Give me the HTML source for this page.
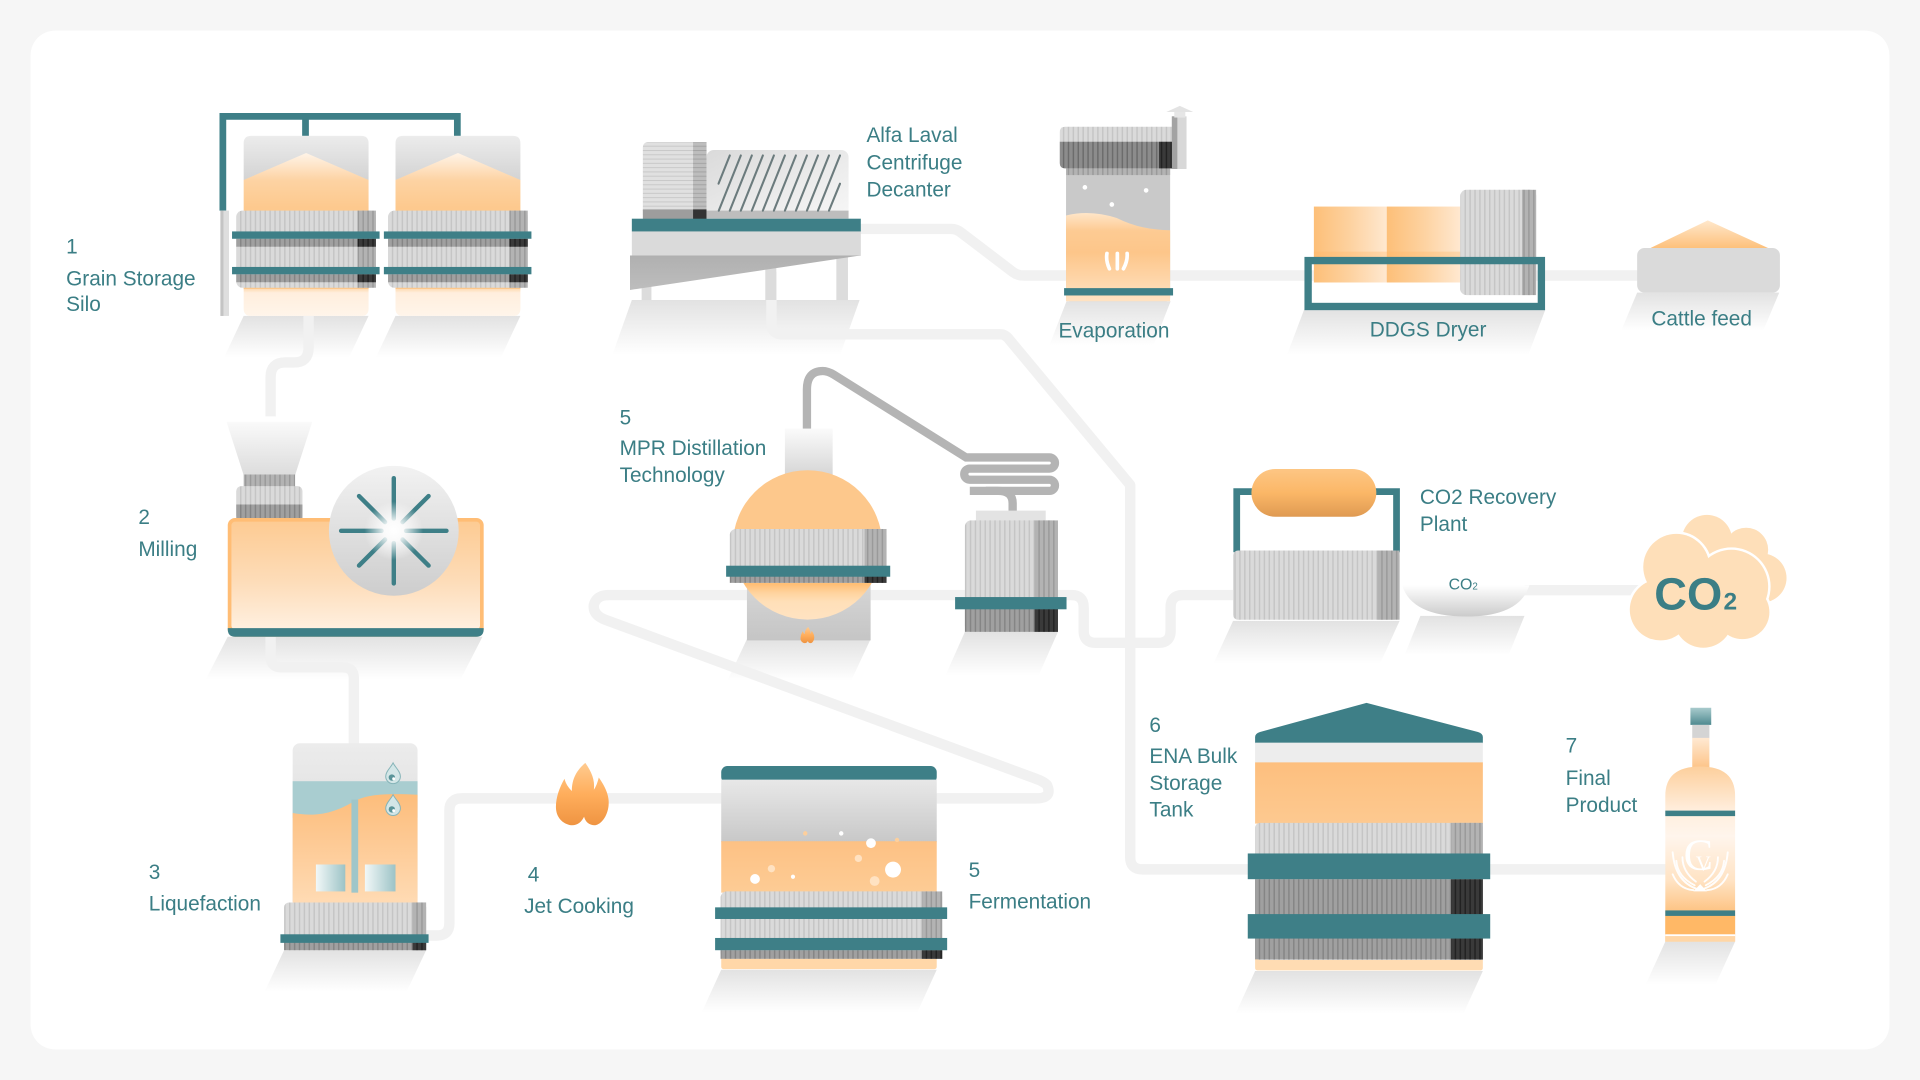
<!DOCTYPE html>
<html><head><meta charset="utf-8">
<style>
html,body{margin:0;padding:0;background:#f6f6f6;overflow:hidden;width:1920px;height:1080px}
svg{display:block}
.t{font-family:"Liberation Sans",sans-serif;fill:#3b7e85;font-size:17px}
</style></head><body>
<svg width="1920" height="1080" viewBox="0 0 1568 882" xmlns="http://www.w3.org/2000/svg">
<defs>
 <pattern id="rL" width="4" height="10" patternUnits="userSpaceOnUse"><rect width="4" height="10" fill="#dadada"/><rect width="1.2" height="10" fill="#c5c5c5"/></pattern>
 <pattern id="rM" width="4" height="10" patternUnits="userSpaceOnUse"><rect width="4" height="10" fill="#b3b3b3"/><rect width="1.2" height="10" fill="#9a9a9a"/></pattern>
 <pattern id="rD" width="4" height="10" patternUnits="userSpaceOnUse"><rect width="4" height="10" fill="#a0a0a0"/><rect width="1.2" height="10" fill="#858585"/></pattern>
 <pattern id="rD2" width="4" height="10" patternUnits="userSpaceOnUse"><rect width="4" height="10" fill="#8c8c8c"/><rect width="1.2" height="10" fill="#6c6c6c"/></pattern>
 <pattern id="rK" width="4" height="10" patternUnits="userSpaceOnUse"><rect width="4" height="10" fill="#3a3a3a"/><rect width="1.2" height="10" fill="#222"/></pattern>
 <pattern id="rH" width="10" height="3.5" patternUnits="userSpaceOnUse"><rect width="10" height="3.5" fill="#e0e0e0"/><rect width="10" height="0.8" fill="#c8c8c8"/></pattern>
 <pattern id="rHM" width="10" height="3.5" patternUnits="userSpaceOnUse"><rect width="10" height="3.5" fill="#bdbdbd"/><rect width="10" height="0.8" fill="#a3a3a3"/></pattern>
 <linearGradient id="sh" x1="0" y1="0" x2="0" y2="1"><stop offset="0" stop-color="#e2e2e2"/><stop offset="1" stop-color="#ffffff"/></linearGradient>
 <linearGradient id="gG" x1="0" y1="0" x2="0" y2="1"><stop offset="0" stop-color="#ececec"/><stop offset="1" stop-color="#d3d3d3"/></linearGradient>
 <linearGradient id="gG2" x1="0" y1="0" x2="0" y2="1"><stop offset="0" stop-color="#e8e8e8"/><stop offset="1" stop-color="#c8c8c8"/></linearGradient>
 <linearGradient id="gRoof" x1="0" y1="0" x2="0" y2="1"><stop offset="0" stop-color="#fff4e8"/><stop offset="0.2" stop-color="#fdd3a3"/><stop offset="0.4" stop-color="#fdc98e"/><stop offset="1" stop-color="#fdc88c"/></linearGradient>
 <linearGradient id="gOL" x1="0" y1="0" x2="0" y2="1"><stop offset="0" stop-color="#fdd6a8"/><stop offset="0.18" stop-color="#ffeedd"/><stop offset="1" stop-color="#fff5ea"/></linearGradient>
 <linearGradient id="gHop" x1="0" y1="0" x2="0" y2="1"><stop offset="0" stop-color="#fafafa"/><stop offset="1" stop-color="#dcdcdc"/></linearGradient>
 <linearGradient id="gMill" x1="0" y1="0" x2="0" y2="1"><stop offset="0" stop-color="#fdcb93"/><stop offset="0.55" stop-color="#fddcb8"/><stop offset="1" stop-color="#fff0e0"/></linearGradient>
 <linearGradient id="gCirc" x1="0" y1="0" x2="0" y2="1"><stop offset="0" stop-color="#f2f2f2"/><stop offset="1" stop-color="#cdcdcd"/></linearGradient>
 <radialGradient id="glow"><stop offset="0" stop-color="#fff" stop-opacity="1"/><stop offset="0.35" stop-color="#fff" stop-opacity="0.85"/><stop offset="1" stop-color="#fff" stop-opacity="0"/></radialGradient>
 <linearGradient id="gLiq" x1="0" y1="0" x2="0" y2="1"><stop offset="0" stop-color="#fdbd7b"/><stop offset="0.4" stop-color="#fdc993"/><stop offset="1" stop-color="#ffdcb6"/></linearGradient>
 <linearGradient id="gPad" x1="0" y1="0" x2="1" y2="0"><stop offset="0" stop-color="#f2f8f8"/><stop offset="1" stop-color="#9cc3c6"/></linearGradient>
 <linearGradient id="gFlame" x1="0" y1="0" x2="0" y2="1"><stop offset="0" stop-color="#ffcb90"/><stop offset="0.5" stop-color="#ffae5c"/><stop offset="1" stop-color="#ef9442"/></linearGradient>
 <linearGradient id="gFerm" x1="0" y1="0" x2="0" y2="1"><stop offset="0" stop-color="#fdc184"/><stop offset="1" stop-color="#fdcc95"/></linearGradient>
 <linearGradient id="gNeck" x1="0" y1="0" x2="0" y2="1"><stop offset="0" stop-color="#fbfbfb"/><stop offset="1" stop-color="#d2d2d2"/></linearGradient>
 <linearGradient id="gStand" x1="0" y1="0" x2="0" y2="1"><stop offset="0" stop-color="#d9d9d9"/><stop offset="1" stop-color="#c5c5c5"/></linearGradient>
 <linearGradient id="gDome" x1="0" y1="0" x2="0" y2="1"><stop offset="0" stop-color="#fdc88c"/><stop offset="0.75" stop-color="#fdc88c"/><stop offset="0.76" stop-color="#ffbd72"/><stop offset="0.82" stop-color="#ffd39e"/><stop offset="0.88" stop-color="#ffdfb8"/><stop offset="1" stop-color="#ffe3c2"/></linearGradient>
 <linearGradient id="gDrum" x1="0" y1="0" x2="1" y2="1"><stop offset="0" stop-color="#dadada"/><stop offset="0.6" stop-color="#ececec"/><stop offset="1" stop-color="#f7f7f7"/></linearGradient>
 <linearGradient id="gTri" x1="0" y1="0" x2="0" y2="1"><stop offset="0" stop-color="#b0b0b0"/><stop offset="1" stop-color="#bdbdbd"/></linearGradient>
 <linearGradient id="gEvap" x1="0" y1="0" x2="0" y2="1"><stop offset="0" stop-color="#ffe6c9"/><stop offset="0.2" stop-color="#fdcb93"/><stop offset="0.45" stop-color="#fdc68a"/><stop offset="1" stop-color="#ffe2c2"/></linearGradient>
 <linearGradient id="gDB" x1="0" y1="0" x2="1" y2="0"><stop offset="0" stop-color="#fdbf78"/><stop offset="0.5" stop-color="#fdd2a0"/><stop offset="1" stop-color="#ffe8d0"/></linearGradient>
 <linearGradient id="gCF" x1="0" y1="0" x2="0" y2="1"><stop offset="0" stop-color="#ffe8cc"/><stop offset="1" stop-color="#fdc07a"/></linearGradient>
 <linearGradient id="gCap" x1="0" y1="0" x2="0" y2="1"><stop offset="0" stop-color="#fdc684"/><stop offset="0.5" stop-color="#fbb767"/><stop offset="1" stop-color="#df9a52"/></linearGradient>
 <linearGradient id="gBowl" x1="0" y1="0" x2="0" y2="1"><stop offset="0" stop-color="#ffffff"/><stop offset="1" stop-color="#cbcbcb"/></linearGradient>
 <linearGradient id="gENA" x1="0" y1="0" x2="0" y2="1"><stop offset="0" stop-color="#fdbf7e"/><stop offset="1" stop-color="#fdc990"/></linearGradient>
 <linearGradient id="gCapB" x1="0" y1="0" x2="0" y2="1"><stop offset="0" stop-color="#a9cbcd"/><stop offset="1" stop-color="#4f8a90"/></linearGradient>
 <linearGradient id="gNeckO" x1="0" y1="0" x2="0" y2="1"><stop offset="0" stop-color="#ffe9d2"/><stop offset="1" stop-color="#fdc58a"/></linearGradient>
 <linearGradient id="gBot" x1="0" y1="0" x2="0" y2="1"><stop offset="0" stop-color="#fdcf9c"/><stop offset="0.25" stop-color="#ffeedd"/><stop offset="0.4" stop-color="#fff5ec"/><stop offset="0.65" stop-color="#ffe3c4"/><stop offset="0.82" stop-color="#fdc587"/><stop offset="1" stop-color="#fdc587"/></linearGradient>
</defs>

<!-- card -->
<rect x="0" y="0" width="1568" height="882" fill="#f6f6f6"/>
<rect x="25" y="25" width="1518" height="832" rx="20" fill="#ffffff"/>

<!-- shadows -->
<g fill="url(#sh)">
<polygon points="199,258 301,258 285,292 183,292"/>
<polygon points="323,258 425,258 409,292 307,292"/>
<polygon points="516,245 702,245 686,290 500,290"/>
<polygon points="871,246 956,246 942,282 857,282"/>
<polygon points="1065,253 1262,253 1248,290 1051,290"/>
<polygon points="1337,239 1453,239 1440,270 1324,270"/>
<polygon points="186,520 394,520 376,555 168,555"/>
<polygon points="610,522 711,522 695,556 594,556"/>
<polygon points="788,516 864,516 848,552 772,552"/>
<polygon points="1007,507 1143,507 1127,542 991,542"/>
<polygon points="1160,503 1245,503 1232,535 1147,535"/>
<polygon points="232,776 348,776 332,810 216,810"/>
<polygon points="589,792 765,792 749,827 573,827"/>
<polygon points="1025,793 1211,793 1195,828 1009,828"/>
<polygon points="1360,769 1417,769 1401,804 1344,804"/>
</g>

<!-- pipes -->
<g fill="none" stroke="#f1f1f1" stroke-width="8.5" stroke-linejoin="round">
<path d="M252,250 V284 Q252,296 240,296 H233 Q221,296 221,308 V340"/>
<path d="M221,515 V536 Q221,545 230,545 H280 Q289,545 289,554 V610"/>
<path d="M345,764 H357 Q367,764 367,754 V662 Q367,652 377,652 H592"/>
<path d="M762,652 H846 Q860,652 855,641 Q852,638 846,636 L494,506 Q484,502 485,494 Q487,486 497,486 H875 Q885,486 885,496 V515 Q885,525 895,525 H946 Q956,525 956,515 V496 Q956,486 966,486 H1010"/>
<path d="M700,187 H777 Q781,187 785,190 L827,222 Q831,225 836,225 H1340"/>
<path d="M630,222 V264 Q630,273 639,273 H817 Q821,273 824,277 L923,396 V700 Q923,710 933,710 H1020"/>
<path d="M1245,482 H1340"/>
<path d="M1215,710 H1362"/>
</g>

<!-- 1 silos -->
<path d="M182,172 V95 H373.5 V111 M249.5,95 V111" fill="none" stroke="#3e7f87" stroke-width="5.5"/>
<rect x="180" y="172" width="7" height="86" fill="#dedede"/>
<rect x="180" y="172" width="2.5" height="86" fill="#c4c4c4"/>
<g>
<path d="M199,235 H301 V252 Q301,258 295,258 H205 Q199,258 199,252 Z" fill="url(#gOL)"/>
<path d="M199,147 V117 Q199,111 205,111 H295 Q301,111 301,117 V147 Z" fill="url(#gG)"/>
<polygon points="199,147 250,125 301,147 301,236 199,236" fill="url(#gRoof)"/>
<rect x="193" y="172" width="114" height="63" rx="5" fill="url(#rL)"/>
<rect x="292" y="172" width="15" height="63" fill="url(#rM)"/>
<rect x="193" y="195" width="114" height="6.5" fill="url(#rD)"/>
<rect x="193" y="224" width="114" height="6.5" fill="url(#rD)"/>
<rect x="292" y="195" width="15" height="6.5" fill="url(#rK)"/>
<rect x="292" y="224" width="15" height="6.5" fill="url(#rK)"/>
<rect x="189.5" y="189" width="120.5" height="6" fill="#3e7f87"/>
<rect x="189.5" y="218" width="120.5" height="6" fill="#3e7f87"/>
</g>
<g transform="translate(124,0)">
<path d="M199,235 H301 V252 Q301,258 295,258 H205 Q199,258 199,252 Z" fill="url(#gOL)"/>
<path d="M199,147 V117 Q199,111 205,111 H295 Q301,111 301,117 V147 Z" fill="url(#gG)"/>
<polygon points="199,147 250,125 301,147 301,236 199,236" fill="url(#gRoof)"/>
<rect x="193" y="172" width="114" height="63" rx="5" fill="url(#rL)"/>
<rect x="292" y="172" width="15" height="63" fill="url(#rM)"/>
<rect x="193" y="195" width="114" height="6.5" fill="url(#rD)"/>
<rect x="193" y="224" width="114" height="6.5" fill="url(#rD)"/>
<rect x="292" y="195" width="15" height="6.5" fill="url(#rK)"/>
<rect x="292" y="224" width="15" height="6.5" fill="url(#rK)"/>
<rect x="189.5" y="189" width="120.5" height="6" fill="#3e7f87"/>
<rect x="189.5" y="218" width="120.5" height="6" fill="#3e7f87"/>
</g>

<!-- 2 milling -->
<polygon points="185,344.5 255,344.5 241,388 199,388" fill="url(#gHop)"/>
<rect x="199" y="387.5" width="42" height="10" fill="url(#rM)"/>
<rect x="193" y="397" width="54" height="28" rx="4" fill="url(#rL)"/>
<rect x="193" y="412" width="54" height="12" fill="url(#rD)"/>
<rect x="186" y="423" width="209" height="97" rx="6" fill="#ffbd75"/>
<rect x="189" y="426" width="203" height="88" rx="3" fill="url(#gMill)"/>
<path d="M186,513 H395 V514 Q395,520 389,520 H192 Q186,520 186,514 Z" fill="#3e7f87"/>
<circle cx="321.6" cy="433.5" r="53" fill="url(#gCirc)"/>
<g stroke="#3e7f87" stroke-width="3.6" stroke-linecap="round">
<line x1="331.6" y1="433.5" x2="364.6" y2="433.5"/>
<line x1="311.6" y1="433.5" x2="278.6" y2="433.5"/>
<line x1="321.6" y1="443.5" x2="321.6" y2="476.5"/>
<line x1="321.6" y1="423.5" x2="321.6" y2="390.5"/>
<line x1="328.7" y1="440.6" x2="350" y2="461.9"/>
<line x1="314.5" y1="440.6" x2="293.2" y2="461.9"/>
<line x1="314.5" y1="426.4" x2="293.2" y2="405.1"/>
<line x1="328.7" y1="426.4" x2="350" y2="405.1"/>
</g>
<circle cx="321.6" cy="433.5" r="24" fill="url(#glow)"/>

<!-- 3 liquefaction -->
<rect x="239" y="607" width="102" height="134" rx="6" fill="url(#gG)"/>
<rect x="239" y="638" width="102" height="30" fill="#a9cdd0"/>
<path d="M239,664 C262,668 276,662 290,654 C302,648 320,648 341,649 V741 H239 Z" fill="url(#gLiq)"/>
<rect x="287" y="653" width="5.5" height="76" fill="#9fc6c9"/>
<rect x="258" y="706" width="24" height="22" fill="url(#gPad)"/>
<rect x="298" y="706" width="25" height="22" fill="url(#gPad)"/>
<path d="M321,623 C323,627 327,630 327,634 A6,6 0 0 1 315,634 C315,630 319,627 321,623 Z" fill="#d3e6e7" stroke="#86b4b8" stroke-width="0.8"/>
<circle cx="320" cy="635" r="2.6" fill="#5a9499"/><circle cx="321.5" cy="636" r="1.2" fill="#fff"/>
<path d="M321,649 C323,653 327,656 327,660 A6,6 0 0 1 315,660 C315,656 319,653 321,649 Z" fill="#d3e6e7" stroke="#86b4b8" stroke-width="0.8"/>
<circle cx="320" cy="661" r="2.6" fill="#5a9499"/><circle cx="321.5" cy="662" r="1.2" fill="#fff"/>
<rect x="232" y="737" width="116" height="39" rx="4" fill="url(#rL)"/>
<rect x="337" y="737" width="11" height="39" fill="url(#rM)"/>
<rect x="232" y="769" width="116" height="7" fill="url(#rD)"/>
<rect x="337" y="769" width="11" height="7" fill="url(#rK)"/>
<rect x="229" y="763" width="121" height="7" fill="#3e7f87"/>

<!-- 4 jet cooking flame -->
<path transform="translate(453,623)" d="M25,0 C30,7 33,14 32,22 C34,19 35,16 36,12 C41,19 45,27 44,35 C43,44 38,50 33,51 C28,51 25,48 24,44 C22,48 19,51 14,51 C6,50 1,44 1,36 C1,28 4,20 8,13 C9,17 11,20 14,23 C14,13 18,6 25,0 Z" fill="url(#gFlame)"/>

<!-- 5 fermentation -->
<rect x="589" y="625.6" width="176" height="14" rx="5" fill="#3e7f87"/>
<rect x="589" y="636.7" width="176" height="51" fill="url(#gG2)"/>
<rect x="589" y="687" width="176" height="42" fill="url(#gFerm)"/>
<g fill="#fff">
<circle cx="711.3" cy="688.6" r="4"/><circle cx="729.3" cy="710.2" r="6.5"/><circle cx="616.6" cy="717.8" r="4"/>
<circle cx="647.6" cy="716" r="1.7"/><circle cx="687" cy="680.6" r="1.8"/>
</g>
<g fill="#ffe2c2"><circle cx="701" cy="701" r="3"/><circle cx="714.3" cy="719.5" r="4"/><circle cx="630" cy="709.4" r="3"/></g>
<g fill="#fdcf9c"><circle cx="657.6" cy="680.6" r="1.8"/><circle cx="732.6" cy="686" r="1.8"/></g>
<rect x="589" y="781" width="176" height="10.5" rx="2" fill="#ffd7a8"/>
<rect x="588.5" y="728" width="181" height="55" rx="5" fill="url(#rL)"/>
<rect x="753" y="728" width="16.5" height="55" fill="url(#rM)"/>
<rect x="588.5" y="776" width="181" height="7" fill="url(#rD)"/>
<rect x="753" y="776" width="16.5" height="7" fill="url(#rK)"/>
<rect x="584" y="741" width="189.5" height="9.5" fill="#3e7f87"/>
<rect x="584" y="766" width="189.5" height="10" fill="#3e7f87"/>

<!-- MPR distillation -->
<g fill="none" stroke="#b4b4b4" stroke-width="6.8">
<path d="M659,352 V318 Q659,303 672,303 Q676,303 681,306 L789,373.6 H857 A4.55,4.55 0 0 1 857,382.7 H792 A4.55,4.55 0 0 0 792,391.8 H857 A4.55,4.55 0 0 1 857,400.9 H792"/>
<path d="M805,400.9 H815 Q827,400.9 827,411 V420"/>
</g>
<rect x="641" y="350" width="39" height="42" fill="url(#gNeck)"/>
<rect x="610" y="468" width="101" height="55" fill="url(#gStand)"/>
<circle cx="659.5" cy="445" r="61" fill="url(#gDome)"/>
<rect x="596" y="432" width="128" height="44" rx="5" fill="url(#rL)"/>
<rect x="706" y="432" width="18" height="44" fill="url(#rM)"/>
<rect x="596" y="470" width="128" height="6" fill="url(#rD)"/>
<rect x="706" y="470" width="18" height="6" fill="url(#rK)"/>
<rect x="593" y="462" width="134" height="9" fill="#3e7f87"/>
<path transform="translate(653.5,512) scale(0.26)" d="M25,0 C30,7 33,14 32,22 C34,19 35,16 36,12 C41,19 45,27 44,35 C43,44 38,50 33,51 C28,51 25,48 24,44 C22,48 19,51 14,51 C6,50 1,44 1,36 C1,28 4,20 8,13 C9,17 11,20 14,23 C14,13 18,6 25,0 Z" fill="url(#gFlame)"/>
<!-- condenser -->
<rect x="797" y="417" width="57" height="9" fill="#e3e3e3"/>
<rect x="788" y="425" width="76" height="91" rx="5" fill="url(#rL)"/>
<rect x="845" y="425" width="19" height="91" fill="url(#rM)"/>
<rect x="788" y="497" width="76" height="19" fill="url(#rD)"/>
<rect x="845" y="497" width="19" height="19" fill="url(#rK)"/>
<rect x="780" y="487.6" width="91" height="10" fill="#3e7f87"/>

<!-- decanter -->
<rect x="524" y="230" width="8" height="15" fill="#dcdcdc"/>
<rect x="625" y="215" width="9" height="30" fill="#dcdcdc"/>
<rect x="683" y="208" width="9.5" height="37" fill="#dcdcdc"/>
<rect x="525" y="116" width="52" height="63" rx="4" fill="url(#rH)"/>
<rect x="566" y="116" width="11" height="63" fill="url(#rHM)"/>
<rect x="525" y="171" width="41" height="8" fill="#9d9d9d"/>
<rect x="566" y="171" width="11" height="8" fill="#333"/>
<rect x="577" y="122.5" width="116" height="56" rx="6" fill="url(#gDrum)"/>
<rect x="577" y="172" width="116" height="6.5" fill="#bdbdbd"/>
<g stroke="#6b7b7d" stroke-width="1.7" stroke-linecap="round">
<line x1="586.8" y1="150" x2="596" y2="127"/>
<line x1="587" y1="172" x2="605" y2="127"/>
<line x1="596" y1="172" x2="614" y2="127"/>
<line x1="605" y1="172" x2="623" y2="127"/>
<line x1="614" y1="172" x2="632" y2="127"/>
<line x1="623" y1="172" x2="641" y2="127"/>
<line x1="632" y1="172" x2="650" y2="127"/>
<line x1="641" y1="172" x2="659" y2="127"/>
<line x1="650" y1="172" x2="668" y2="127"/>
<line x1="659" y1="172" x2="677" y2="127"/>
<line x1="668" y1="172" x2="686" y2="127"/>
<line x1="677" y1="172" x2="686" y2="150"/>
</g>
<rect x="516" y="178.6" width="187" height="10.5" fill="#3e7f87"/>
<rect x="516" y="189" width="187" height="20" fill="#dadada"/>
<polygon points="514.5,208.7 702.5,208.7 514.5,236.8" fill="url(#gTri)"/>

<!-- evaporation -->
<rect x="957" y="95" width="12" height="43" fill="#d8d8d8"/>
<rect x="957" y="95" width="4.5" height="43" fill="#a3a3a3"/>
<rect x="959" y="91" width="9" height="5" fill="#e6e6e6"/>
<polygon points="952.5,91.5 963.5,86.5 974.5,91.5" fill="#e3e3e3"/>
<rect x="870.6" y="135" width="85" height="111" rx="3" fill="#c9c9c9"/>
<rect x="870.6" y="137.5" width="85" height="5.5" fill="url(#rM)"/>
<g fill="#fff"><circle cx="886" cy="153" r="1.9"/><circle cx="936" cy="155.5" r="1.9"/><circle cx="908" cy="167" r="1.9"/></g>
<path d="M870.6,176 Q890,171 912,178 Q932,188 955.6,188 V246 H870.6 Z" fill="url(#gEvap)"/>
<g fill="none" stroke="#fff" stroke-width="3" stroke-linecap="round">
<path d="M904,207 Q903,213 906,219.5"/><path d="M912.5,207 V219.5"/><path d="M920.5,207 Q921,213 917.5,219.5"/>
</g>
<rect x="869" y="235.3" width="89" height="6" fill="#3e7f87"/>
<path d="M865.5,108 Q865.5,103.5 870,103.5 H957 V137.5 H870 Q865.5,137.5 865.5,133 Z" fill="url(#rL)"/>
<path d="M865.5,115.8 H957 V137.5 H870 Q865.5,137.5 865.5,133 Z" fill="url(#rD2)"/>
<rect x="946.5" y="115.8" width="10.5" height="21.7" fill="url(#rK)"/>

<!-- DDGS dryer -->
<rect x="1073" y="168.7" width="59.5" height="62" fill="url(#gDB)"/>
<rect x="1132.5" y="168.7" width="60" height="62" fill="url(#gDB)"/>
<rect x="1073" y="205.5" width="119.5" height="10" fill="#ffb866" opacity="0.35"/>
<rect x="1192.6" y="155" width="62" height="86" rx="5" fill="url(#rL)"/>
<rect x="1243" y="155" width="11.5" height="86" fill="url(#rM)"/>
<rect x="1068.3" y="212.8" width="190.5" height="37.5" fill="none" stroke="#3e7f87" stroke-width="6"/>

<!-- cattle feed -->
<polygon points="1347,203 1394.7,180 1445,203" fill="url(#gCF)"/>
<rect x="1337" y="202.5" width="116.6" height="36.5" rx="6" fill="#dadada"/>

<!-- CO2 recovery -->
<path d="M1010,451 V401.5 H1023 M1123,401.5 H1140.5 V451" stroke="#3e7f87" stroke-width="5.5" fill="none"/>
<rect x="1022" y="383" width="102" height="39" rx="19.5" fill="url(#gCap)"/>
<rect x="1007" y="449.6" width="136" height="56.5" rx="4" fill="url(#rL)"/>
<rect x="1125" y="449.6" width="18" height="56.5" fill="url(#rM)"/>
<path d="M1145,478 H1249 Q1241,503.5 1197,503.5 Q1153,503.5 1145,478 Z" fill="url(#gBowl)"/>
<text class="t" x="1183" y="481.6" style="font-size:13px">CO<tspan style="font-size:8px">2</tspan></text>

<!-- CO2 cloud -->
<g fill="#fedfb9">
<circle cx="1394" cy="441" r="20.5"/><circle cx="1426" cy="449" r="18"/><circle cx="1439" cy="472" r="20"/><circle cx="1415" cy="465" r="20"/>
</g>
<g fill="#fedfb9" stroke="#ffffff" stroke-width="4">
<circle cx="1369" cy="463" r="27"/><circle cx="1414" cy="479" r="30"/><circle cx="1356" cy="498" r="25"/><circle cx="1391" cy="505" r="24"/><circle cx="1423" cy="500" r="22"/><circle cx="1390" cy="485" r="28"/>
</g>
<g fill="#fedfb9">
<circle cx="1369" cy="463" r="27"/><circle cx="1414" cy="479" r="30"/><circle cx="1356" cy="498" r="25"/><circle cx="1391" cy="505" r="24"/><circle cx="1423" cy="500" r="22"/><circle cx="1390" cy="485" r="28"/>
</g>
<text x="1351" y="497.6" style="font-family:'Liberation Sans',sans-serif;font-weight:bold;font-size:37px;fill:#3b7e85">CO<tspan dx="1" style="font-size:20px">2</tspan></text>

<!-- 6 ENA tank -->
<path d="M1025,607 V602 Q1025,599 1029,597.8 L1116,574 L1207,597.8 Q1211,599 1211,602 V607 Z" fill="#3e7f87"/>
<rect x="1025" y="606.5" width="186" height="16.5" fill="#ededed"/>
<rect x="1025" y="622.6" width="186" height="50" fill="url(#gENA)"/>
<rect x="1025" y="781" width="186" height="11.5" rx="2" fill="#ffdcb3"/>
<rect x="1025" y="672" width="186" height="112" rx="4" fill="url(#rL)"/>
<rect x="1185" y="672" width="26" height="112" fill="url(#rM)"/>
<rect x="1025" y="718" width="186" height="65.5" fill="url(#rD)"/>
<rect x="1185" y="718" width="26" height="65.5" fill="url(#rK)"/>
<rect x="1019" y="697" width="198" height="21" fill="#3e7f87"/>
<rect x="1019" y="746.5" width="198" height="20" fill="#3e7f87"/>

<!-- 7 bottle -->
<rect x="1380.5" y="578" width="17" height="14" fill="url(#gCapB)"/>
<rect x="1382" y="592" width="14" height="11" fill="#d4d4d4"/>
<rect x="1382" y="602.6" width="14" height="24" fill="url(#gNeckO)"/>
<path d="M1360,769 V650 Q1360,626 1388.5,626 Q1417,626 1417,650 V769 Z" fill="url(#gBot)"/>
<rect x="1360" y="747.7" width="57" height="15.5" fill="#ffb866"/>
<rect x="1360" y="763" width="57" height="1.6" fill="#fff"/>
<rect x="1360" y="764.6" width="57" height="4.4" fill="#ffd6a6"/>
<rect x="1360" y="662" width="57" height="4.5" fill="#3e7f87"/>
<rect x="1360" y="743.5" width="57" height="4.5" fill="#3e7f87"/>
<g fill="none" stroke="#fff" stroke-width="1.5" opacity="0.95" stroke-linecap="round">
<path d="M1386,726 Q1368,720 1366,696"/><path d="M1384,723 Q1370,716 1369,703"/><path d="M1383,727 Q1371,726 1366,714"/><path d="M1385,720 Q1374,712 1374,700"/>
<path d="M1391,726 Q1409,720 1411,696"/><path d="M1393,723 Q1407,716 1408,703"/><path d="M1394,727 Q1406,726 1411,714"/><path d="M1392,720 Q1403,712 1403,700"/>
</g>
<polygon points="1383,728 1388.5,722 1394,728" fill="#fff"/>
<text x="1387" y="710" text-anchor="middle" style="font-family:'Liberation Serif',serif;font-size:36px;fill:#fff">C</text>
<text x="1391" y="711" text-anchor="middle" style="font-family:'Liberation Serif',serif;font-size:17px;fill:#fff">V</text>

<!-- labels -->
<g>
<text class="t" x="54" y="207">1</text>
<text class="t" x="54" y="233">Grain Storage</text>
<text class="t" x="54" y="254">Silo</text>
<text class="t" x="113" y="428">2</text>
<text class="t" x="113" y="454">Milling</text>
<text class="t" x="121.5" y="718">3</text>
<text class="t" x="121.5" y="743.5">Liquefaction</text>
<text class="t" x="431" y="720">4</text>
<text class="t" x="428" y="745.5">Jet Cooking</text>
<text class="t" x="506" y="346.5">5</text>
<text class="t" x="506" y="371.7">MPR Distillation</text>
<text class="t" x="506" y="393.7">Technology</text>
<text class="t" x="707.6" y="116">Alfa Laval</text>
<text class="t" x="707.6" y="138.4">Centrifuge</text>
<text class="t" x="707.6" y="160.4">Decanter</text>
<text class="t" x="864.4" y="275.6">Evaporation</text>
<text class="t" x="1118.6" y="275">DDGS Dryer</text>
<text class="t" x="1348.6" y="265.7">Cattle feed</text>
<text class="t" x="1159.6" y="411.6">CO2 Recovery</text>
<text class="t" x="1159.6" y="433.7">Plant</text>
<text class="t" x="938.7" y="598">6</text>
<text class="t" x="938.7" y="623">ENA Bulk</text>
<text class="t" x="938.7" y="645">Storage</text>
<text class="t" x="938.7" y="667">Tank</text>
<text class="t" x="791" y="716.3">5</text>
<text class="t" x="791" y="742">Fermentation</text>
<text class="t" x="1278.6" y="614.7">7</text>
<text class="t" x="1278.6" y="641">Final</text>
<text class="t" x="1278.6" y="663">Product</text>
</g>
</svg>
</body></html>
